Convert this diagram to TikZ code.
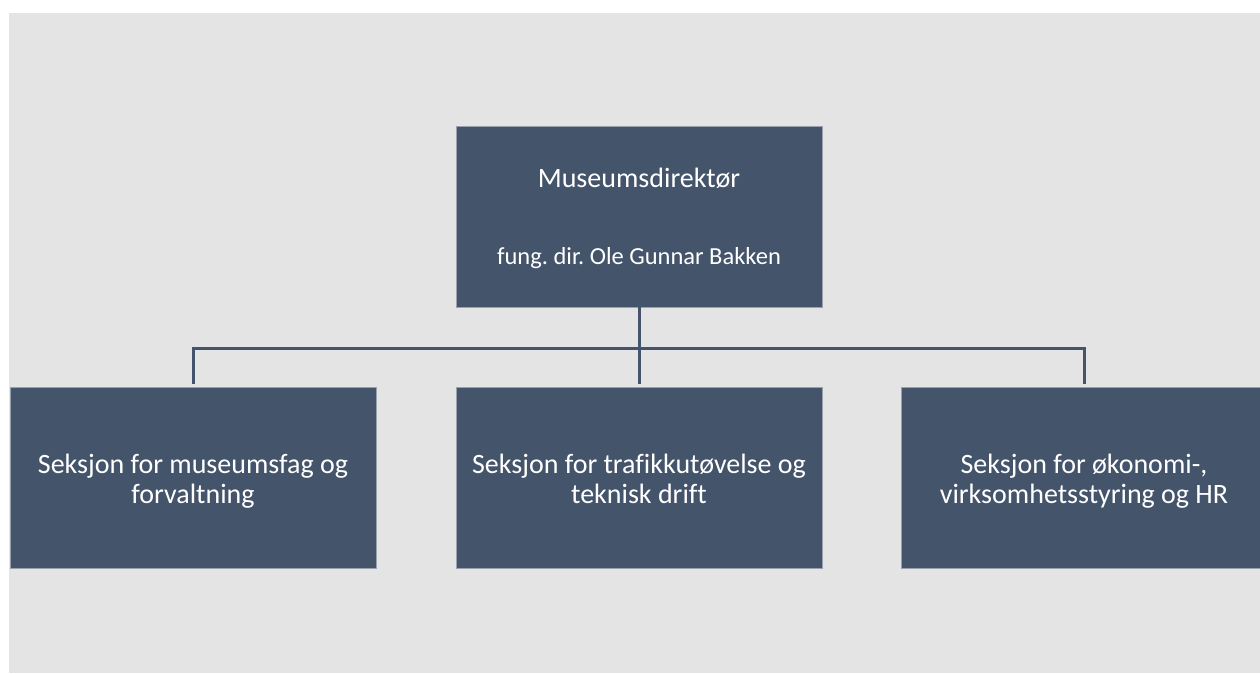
\documentclass[tikz,border=0pt]{standalone}
\usepackage{fontspec}
\setmainfont[Ligatures=NoCommon]{Carlito}
\definecolor{boxblue}{HTML}{44546A}
\definecolor{bggray}{HTML}{E4E4E4}
\frenchspacing
\newcommand{\topstrut}{\rule{0pt}{31pt}}

\begin{document}
\begin{tikzpicture}[x=1pt,y=-1pt,
  main node/.style={rectangle,fill=boxblue,draw=boxblue!55!white,line width=0.6pt,
    minimum width=366pt,minimum height=181pt,inner sep=0pt,text=white,align=center,
    font=\fontsize{28}{30}\selectfont},
  label node/.style={text=white,anchor=base,inner sep=0pt},
  link/.style={draw=boxblue,line width=3pt}]

  \useasboundingbox (0,0) rectangle (1260,673);
  \fill[bggray] (9,13) rectangle (1260,673);

  \node[main node] (dir) at (639,216.5) {};
  \node[label node,font=\fontsize{28}{30}\selectfont] (dirtitle) at (639,187) {Museumsdirektør};
  \node[label node,font=\fontsize{24.5}{29}\selectfont] (dirname) at (639,264) {fung. dir. Ole Gunnar Bakken};

  \node[main node] (sec1) at (193,477.5) {\topstrut Seksjon for museumsfag og\\forvaltning\strut};
  \node[main node] (sec2) at (639,477.5) {\topstrut Seksjon for trafikkutøvelse og\\teknisk drift\strut};
  \node[main node] (sec3) at (1084,477.5) {\topstrut Seksjon for økonomi-,\\virksomhetsstyring og HR\strut};

  \coordinate (bus) at (639,348);
  \draw[link] (dir) -- (bus);
  \draw[link,shorten >=3pt] (bus) -| (sec1);
  \draw[link,shorten >=3pt] (bus) -- (sec2);
  \draw[link,shorten >=3pt] (bus) -| (sec3);
\end{tikzpicture}
\end{document}
